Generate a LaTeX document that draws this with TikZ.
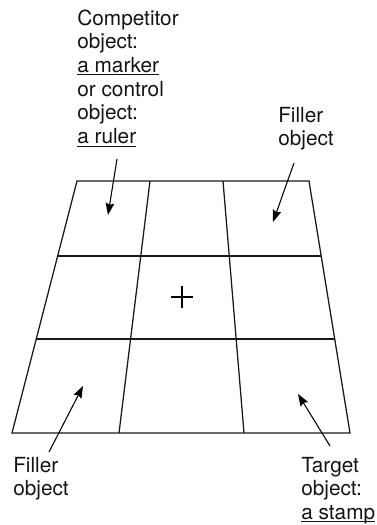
\documentclass[tikz,border=0pt]{standalone}
\usepackage{fontspec}
\setmainfont{TeX Gyre Heros}
\usetikzlibrary{arrows.meta,calc}
\newcommand\myul[1]{\setbox0\hbox{#1}\rlap{\rule[-2.1pt]{\wd0}{0.6pt}}\box0}
\newcommand\mystack[1]{\vtop{\baselineskip=17.8pt\lineskiplimit=-20pt\halign{##\hfil\cr#1\crcr}}}
\begin{document}
\begin{tikzpicture}[x=0.75pt,y=-0.75pt,
  grid/.style={line width=0.95pt,color=black!90},
  lbl/.style={anchor=base west,inner sep=0pt,font=\fontsize{15.6}{17.8}\selectfont,text=black!92},
  pointer/.style={line width=0.8pt,-{Stealth[length=9pt,width=6.5pt,inset=1.2pt]}}]
\useasboundingbox (0,0) rectangle (376,525);
% corners
\coordinate (TL) at (77,181);
\coordinate (TR) at (309,181);
\coordinate (BL) at (12,433);
\coordinate (BR) at (350,433);
\coordinate (T1) at (150,181);
\coordinate (T2) at (223,181);
\coordinate (B1) at (119,433);
\coordinate (B2) at (244,433);
\def\ra{0.2976}
\def\rb{0.627}
\draw[grid] (TL) -- (TR) -- (BR) -- (BL) -- cycle;
\draw[grid] (T1) -- (B1);
\draw[grid] (T2) -- (B2);
\draw[grid] ($(TL)!\ra!(BL)$) -- ($(TR)!\ra!(BR)$);
\draw[grid] ($(TL)!\rb!(BL)$) -- ($(TR)!\rb!(BR)$);
% fixation cross
\coordinate (C) at (182,297);
\draw[line width=0.8pt] ($(C)+(-11,0)$) -- ($(C)+(11,0)$);
\draw[line width=0.8pt] ($(C)+(0,-11)$) -- ($(C)+(0,11)$);
% labels
\node[lbl] (comp) at (77,25) {\mystack{Competitor\cr object:\cr \myul{a marker}\cr or control\cr object:\cr \myul{a ruler}}};
\node[lbl] (fillTR) at (278,122) {\mystack{Filler\cr object}};
\node[lbl] (fillBL) at (13,472) {\mystack{Filler\cr object}};
\node[lbl] (targ) at (301,472) {\mystack{Target\cr object:\cr \myul{a stamp}}};
% arrows
\coordinate (a1s) at (117,159); \coordinate (a1e) at (108,215);
\coordinate (a2s) at (294,163); \coordinate (a2e) at (273,222);
\coordinate (a3s) at (49,452);  \coordinate (a3e) at (83,386);
\coordinate (a4s) at (330,446); \coordinate (a4e) at (298,394);
\draw[pointer] (a1s) -- (a1e);
\draw[pointer] (a2s) -- (a2e);
\draw[pointer] (a3s) -- (a3e);
\draw[pointer] (a4s) -- (a4e);
\end{tikzpicture}
\end{document}
